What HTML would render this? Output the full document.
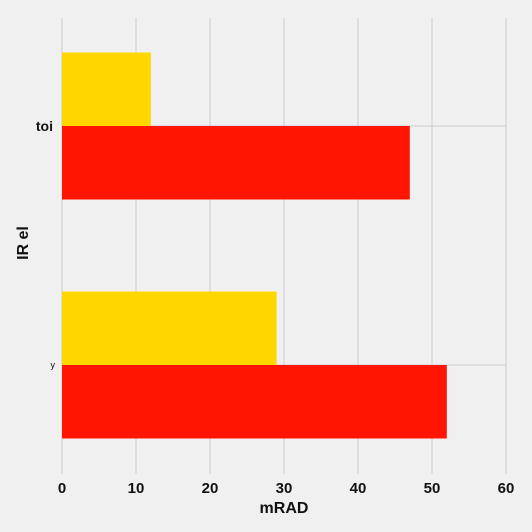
<!DOCTYPE html>
<html><head><meta charset="utf-8"><style>
body{margin:0;background:#f0f0f0;}
svg{display:block;font-family:"Liberation Sans",sans-serif;}
</style></head><body>
<svg id="c" width="532" height="532">
<rect width="532" height="532" fill="#f0f0f0"/>
</svg>
<script>
const categories=["toi","y"];
const yellowValues=[12,29];
const redValues=[47,52];
const xTicks=[0,10,20,30,40,50,60];
const NS="http://www.w3.org/2000/svg";
const svg=document.getElementById('c');
const x0=62,x1=506,xmax=60,yTop=18,yBot=474;
const catY=[126,365];
const barH=73.5;
function xs(v){return x0+(v/xmax)*(x1-x0);}
function yc(i){return catY[0]+i*(catY[1]-catY[0]);}
function mk(t,a,txt){const e=document.createElementNS(NS,t);for(const k in a)e.setAttribute(k,a[k]);if(txt!==undefined)e.textContent=txt;svg.appendChild(e);return e;}
xTicks.forEach(t=>{
 const l=mk('line',{x1:xs(t),x2:xs(t),y1:yTop,y2:yBot,stroke:'#cbcbcb','stroke-width':1});
 
 
 const tx=mk('text',{x:xs(t),y:493,'text-anchor':'middle','font-size':15,'font-weight':'bold',fill:'#111'},t);
 
 
});
categories.forEach((c,i)=>{
 const l=mk('line',{x1:x0,x2:x1,y1:yc(i),y2:yc(i),stroke:'#cbcbcb','stroke-width':1});
 
 
});
categories.forEach((c,i)=>{
 const y=yc(i);
 const b1=mk('rect',{x:x0,y:y-barH,width:xs(yellowValues[i])-x0,height:barH,fill:'#ffd700'});
 
 
 const b2=mk('rect',{x:x0,y:y,width:xs(redValues[i])-x0,height:barH,fill:'#ff1500'});
 
 
 const big=c.length>1;
 const t=mk('text',{x:big?53:55,y:y+(big?5:3),'text-anchor':'end','font-size':big?14:9,'font-weight':big?'bold':'normal',fill:'#111'},c);
 
 
});
const xt=mk('text',{x:284,y:513,'text-anchor':'middle','font-size':16,'font-weight':'bold',fill:'#111'},'mRAD');


const yt=mk('text',{x:28,y:243,'text-anchor':'middle','font-size':16,'font-weight':'bold',fill:'#111',transform:'rotate(-90 28 243)'},'IR el');


</script>
</body></html>
